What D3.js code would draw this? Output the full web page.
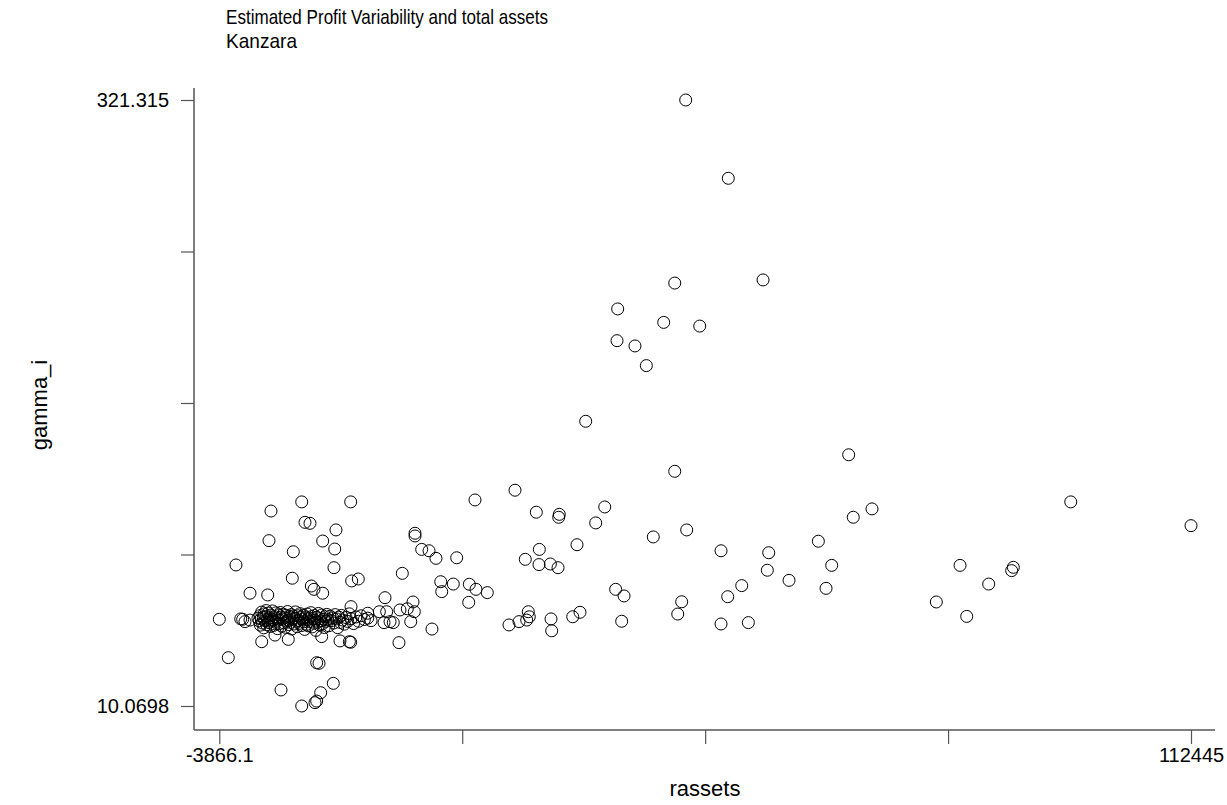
<!DOCTYPE html>
<html lang="en">
<head>
	<meta charset="utf-8">
	<title>Profit variability</title>
	<script type="text/javascript" src="https://cdn.jsdelivr.net/npm/d3@7"></script>
	<style>
		body { margin: 0; background: white; }
		text { font-family: "Liberation Sans", Arial, sans-serif; fill: black; }
	</style>
</head>
<body>
	<script type="text/javascript">
		var w = 1227;
		var h = 805;

		// axis ranges and ticks (only the ends are labelled)
		var xTicks = [-3866.1, 25211.675, 54289.45, 83367.225, 112445];
		var yTicks = [10.0698, 87.881, 165.692, 243.504, 321.315];
		var xTickLabels = ["-3866.1", "", "", "", "112445"];
		var yTickLabels = ["10.0698", "", "", "", "321.315"];

		// [rassets, gamma_i] - spread out households
		var outerPts = [
			[6000,114.9],[2320,110.2],[6390,104.4],[6990,103.9],[10100,100.5],[2080,95.0],[8510,94.8],
			[9950,90.7],[4990,89.3],[-1870,82.5],[4870,75.7],[9860,81.1],[7150,71.7],[7470,70.0],
			[8510,68.0],[-190,68.0],[1930,67.1],[-3866.1,54.6],[-1300,54.8],[-1070,54.6],[-190,54.2],
			[-790,53.4],[1210,43.1],[2800,46.5],[4390,44.3],[8390,45.7],[-2790,34.9],[7790,32.3],
			[8070,32.0],[9780,21.7],[3520,18.3],[8270,16.9],[7590,11.8],[7790,12.6],[6000,10.0698],
			[11860,114.9],[26740,115.9],[19560,98.8],[19560,97.4],[20360,90.5],[21240,89.8],[22070,85.9],
			[24550,86.2],[18040,78.2],[11980,74.3],[12770,75.3],[22640,73.9],[22760,68.8],[24140,72.7],
			[26060,72.6],[26860,70.0],[25990,63.3],[15970,65.7],[19320,63.5],[15290,58.5],[16170,58.5],
			[17760,59.4],[18640,60.0],[19480,58.5],[15850,52.9],[16570,53.4],[16960,52.9],[19050,53.4],
			[21590,49.6],[10580,43.5],[11700,43.1],[11860,42.8],[17640,42.6],[13900,57.7],[11900,61.1],
			[28210,68.3],[39990,156.3],[50650,130.6],[31530,120.9],[34080,109.6],[36830,108.5],[36760,107.0],
			[42270,112.3],[41190,104.1],[48080,96.9],[52080,100.5],[56190,89.8],[38950,92.9],[34440,90.5],
			[32760,85.4],[34400,82.7],[35760,83.0],[36680,81.1],[43580,70.0],[44580,66.6],[51480,63.6],
			[51010,57.3],[56190,52.2],[33120,58.5],[33240,55.9],[32930,54.2],[32010,53.4],[30810,51.7],
			[35840,54.8],[35920,48.7],[38440,55.9],[39310,58.2],[44300,53.6],[51962,321.315],[57060,281.1],
			[61220,228.9],[50650,227.3],[43820,214.0],[49330,207.1],[53640,205.2],[43740,197.7],[45890,195.0],
			[47250,184.9],[71470,139.1],[74260,111.3],[72020,107.0],[67840,94.7],[61900,88.8],[61730,79.8],
			[69440,82.3],[64330,74.6],[68760,70.5],[58670,71.9],[56990,66.2],[59460,52.9],[84800,82.3],
			[88230,72.7],[81960,63.5],[85600,56.1],[98050,114.9],[112445,102.7],[91180,81.3],[90980,79.6]
		];

		// [rassets, gamma_i] - the dense band of small holdings
		var clusterPts = [
			[760,55.2],[900,53.8],[1000,56.5],[1050,51.6],[1150,54.9],[1200,58.3],[1300,52.7],[1400,55.6],
			[1450,50.2],[1500,57.4],[1600,53.9],[1700,56.1],[1750,59.1],[1800,51.8],[1900,54.5],[2000,57.8],
			[2050,52.9],[2150,55.3],[2250,50.9],[2300,56.8],[2400,53.6],[2500,58.9],[2550,54.4],[2650,51.5],
			[2750,56.0],[2850,53.1],[2900,57.9],[3000,55.0],[3100,49.8],[3200,54.1],[3250,56.9],[3350,52.4],
			[3450,58.1],[3500,55.7],[3600,51.1],[3700,54.7],[3800,57.2],[3850,52.8],[3950,55.4],[4050,50.5],
			[4100,56.6],[4200,53.5],[4300,58.6],[4400,54.2],[4450,51.9],[4550,55.9],[4650,53.0],[4750,57.0],
			[4800,49.6],[4900,54.8],[5000,56.3],[5100,52.2],[5200,55.1],[5250,58.4],[5350,53.7],[5450,50.8],
			[5550,56.4],[5650,54.0],[5700,52.5],[5800,57.5],[5900,55.5],[6000,51.4],[6100,54.6],[6200,56.7],
			[6250,53.3],[6350,49.4],[6450,55.8],[6550,52.0],[6650,57.3],[6700,54.3],[6800,51.2],[6900,55.2],
			[7000,53.4],[7100,58.0],[7150,56.0],[7250,50.7],[7350,54.9],[7450,52.6],[7550,56.5],[7600,54.1],
			[7700,48.9],[7800,55.6],[7900,53.2],[8000,57.6],[8100,51.7],[8200,55.0],[8300,53.8],[8400,56.8],
			[8500,52.3],[8600,54.6],[8700,50.4],[8800,55.9],[8900,53.6],[9000,57.1],[9100,54.4],[9250,51.3],
			[9400,56.2],[9550,53.9],[9700,55.3],[9850,52.7],[10000,57.0],[10150,54.8],[10300,50.3],[10450,55.7],
			[10600,53.0],[10750,56.6],[10900,54.2],[11100,52.1],[11300,55.5],[11500,53.5],[11700,57.4],[11900,54.9],
			[12200,52.4],[12500,55.8],[12800,53.6],[13100,56.4],[13500,54.5],[13900,55.2],[14300,53.9]
		];

		var x = d3.scaleLinear().domain([-3866.1, 112445]).range([219.3, 1191]);
		var y = d3.scaleLinear().domain([10.0698, 321.315]).range([706, 100]);

		var svg = d3.select("body")
					.append("svg")
					.attr("width", w)
					.attr("height", h);

		svg.append("rect")
		   .attr("width", w).attr("height", h)
		   .attr("fill", "white");

		// title, two lines (narrow face like the original export)
		svg.append("text").attr("x", 226).attr("y", 24)
		   .attr("textLength", 322).attr("lengthAdjust", "spacingAndGlyphs")
		   .style("font-size", "21px").text("Estimated Profit Variability and total assets");
		svg.append("text").attr("x", 226).attr("y", 48)
		   .attr("textLength", 71).attr("lengthAdjust", "spacingAndGlyphs")
		   .style("font-size", "21px").text("Kanzara");

		// axes - ticks from d3, the long lines drawn separately
		var xAxis = d3.axisBottom(x)
					  .tickValues(xTicks)
					  .tickSize(14)
					  .tickPadding(4)
					  .tickFormat(function(d, i) { return xTickLabels[i]; });
		var yAxis = d3.axisLeft(y)
					  .tickValues(yTicks)
					  .tickSize(13)
					  .tickPadding(12)
					  .tickFormat(function(d, i) { return yTickLabels[i]; });

		var gx = svg.append("g").attr("transform", "translate(0,730)").call(xAxis);
		var gy = svg.append("g").attr("transform", "translate(194,0)").call(yAxis);

		[gx, gy].forEach(function(g) {
			g.select(".domain").remove();
			g.selectAll(".tick line").attr("stroke", "#555").attr("stroke-width", 1.2);
			g.selectAll(".tick text")
			 .style("font-size", "20px")
			 .style("font-family", "'Liberation Sans', Arial, sans-serif")
			 .attr("fill", "black");
		});

		svg.append("line")
		   .attr("x1", 194).attr("x2", 194).attr("y1", 88).attr("y2", 730)
		   .attr("stroke", "#555").attr("stroke-width", 1.5);
		svg.append("line")
		   .attr("x1", 194).attr("x2", 1215).attr("y1", 730).attr("y2", 730)
		   .attr("stroke", "#555").attr("stroke-width", 1.5);

		// axis titles
		svg.append("text")
		   .attr("x", 705).attr("y", 796)
		   .attr("text-anchor", "middle")
		   .style("font-size", "22px")
		   .text("rassets");
		svg.append("text")
		   .attr("transform", "translate(47,405) rotate(-90)")
		   .attr("text-anchor", "middle")
		   .style("font-size", "22px")
		   .text("gamma_i");

		// points
		var allPts = clusterPts.concat(outerPts);
		svg.append("g")
		   .selectAll("circle")
		   .data(allPts)
		   .enter()
		   .append("circle")
		   .attr("cx", function(d) { return x(d[0]); })
		   .attr("cy", function(d) { return y(d[1]); })
		   .attr("r", 6)
		   .attr("fill", "none")
		   .attr("stroke", "black")
		   .attr("stroke-width", 1);
	</script>
</body>
</html>
